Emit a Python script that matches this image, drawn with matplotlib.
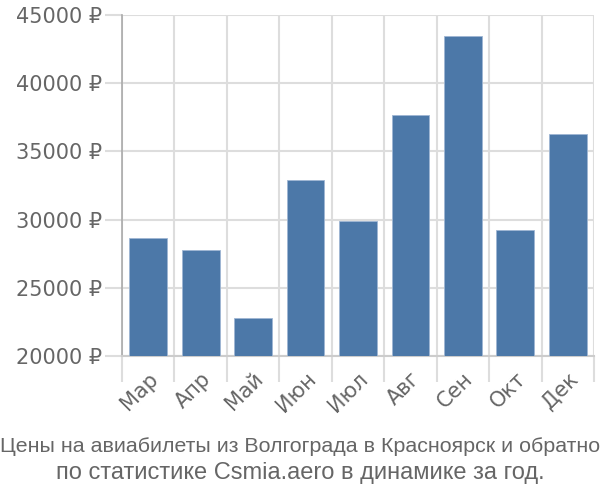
import matplotlib
matplotlib.use('Agg')
import matplotlib.pyplot as plt
import matplotlib.transforms as mtransforms
import numpy as np

months = ['Мар', 'Апр', 'Май', 'Июн', 'Июл', 'Авг', 'Сен', 'Окт', 'Дек']
prices = [28650, 27770, 22790, 32900, 29900, 37670, 43460, 29240, 36280]
yticks = [20000, 25000, 30000, 35000, 40000, 45000]
caption_1 = 'Цены на авиабилеты из Волгограда в Красноярск и обратно'
caption_2 = 'по статистике Csmia.aero в динамике за год.'

plt.rcParams['font.family'] = ['DejaVu Sans']
TXT = '#666666'
GRID = '#dddddd'

fig = plt.figure(figsize=(6, 5), dpi=100)
ax = fig.add_axes([0.2033, 0.288, 0.7867, 0.682])

x = np.arange(len(months))
ax.bar(x, prices, 0.72, color='#4c78a8', edgecolor='#9fb6d3', linewidth=0.6, zorder=3)

ax.set_xlim(-0.5, len(months) - 0.5)
ax.set_ylim(20000, 45000)
ax.set_yticks(yticks)
ax.set_yticklabels([f'{v} ₽' for v in yticks], fontsize=15, color=TXT)
ax.set_xticks(x)
ax.set_xticklabels(months, rotation=45, ha='right', rotation_mode='anchor',
                   fontsize=15, color=TXT)
shift = mtransforms.ScaledTranslation(7 / 100, 0, fig.dpi_scale_trans)
for lbl in ax.get_xticklabels():
    lbl.set_transform(lbl.get_transform() + shift)
ax.set_xticks(np.arange(-0.5, len(months)), minor=True)
ax.tick_params(axis='x', which='major', length=0, pad=9)
ax.tick_params(axis='x', which='minor', length=19, color=GRID, width=1.5)
ax.tick_params(axis='y', length=12, color=GRID, width=1.5, pad=2)

ax.grid(True, axis='y', color=GRID, linewidth=1.5, zorder=0)
ax.grid(True, axis='x', which='minor', color=GRID, linewidth=1.5, zorder=0)

for s in ['top', 'right']:
    ax.spines[s].set_visible(False)
ax.spines['left'].set_color('#aaaaaa')
ax.spines['left'].set_linewidth(1.2)
ax.spines['bottom'].set_color('#cccccc')
ax.spines['bottom'].set_linewidth(1.5)

# caption: first line is squeezed to the figure width in the original
fig.text(0.5, 0.106, caption_1, ha='center', va='center', fontsize=15.4,
         color=TXT, family=['Liberation Sans', 'DejaVu Sans'])
fig.text(0.5, 0.054, caption_2, ha='center', va='center', fontsize=17,
         color=TXT, family=['Liberation Sans', 'DejaVu Sans'])

fig.savefig('out.png', dpi=100)
